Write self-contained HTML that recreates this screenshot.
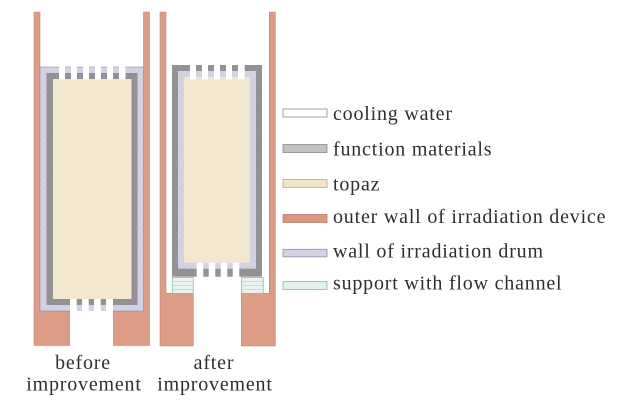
<!DOCTYPE html>
<html>
<head>
<meta charset="utf-8">
<style>
html,body{margin:0;padding:0;background:#fff;}
svg{display:block;}
text{font-family:"Liberation Serif",serif;font-size:20px;fill:#2e2e2e;letter-spacing:0.8px;}
</style>
</head>
<body>
<svg width="634" height="400" viewBox="0 0 634 400" xmlns="http://www.w3.org/2000/svg">
<defs>
  <pattern id="hatchL" width="4" height="4" patternUnits="userSpaceOnUse" patternTransform="rotate(45)">
    <rect width="4" height="4" fill="#d5d3e3"/>
    <line x1="0" y1="0" x2="0" y2="4" stroke="#c7c5d8" stroke-width="1"/>
  </pattern>
  <pattern id="hatchG" width="4" height="4" patternUnits="userSpaceOnUse" patternTransform="rotate(45)">
    <rect width="4" height="4" fill="#929297"/>
    <line x1="0" y1="0" x2="0" y2="4" stroke="#88888d" stroke-width="1"/>
  </pattern>
</defs>

<!-- ===== BEFORE device ===== -->
<!-- outer walls -->
<polygon points="34,12 40,12 40,311 70,311 70,345.5 34,345.5" fill="#dd9c86" stroke="#b8877a" stroke-width="0.6"/>
<polygon points="143.5,12 149.5,12 149.5,345.5 113,345.5 113,311 143.5,311" fill="#dd9c86" stroke="#b8877a" stroke-width="0.6"/>
<!-- drum wall (lavender) -->
<rect x="40" y="67" width="103.5" height="244" fill="url(#hatchL)" stroke="#8f8da3" stroke-width="0.6"/>
<!-- function materials (gray) -->
<rect x="46.5" y="73" width="91" height="232" fill="url(#hatchG)"/>
<!-- topaz -->
<rect x="53" y="79" width="78.5" height="220" fill="#f3e7cf"/>
<!-- top gaps -->
<g fill="#fff">
  <rect x="59" y="66.5" width="6" height="12.8"/>
  <rect x="71" y="66.5" width="6" height="12.8"/>
  <rect x="83" y="66.5" width="6" height="12.8"/>
  <rect x="95" y="66.5" width="6" height="12.8"/>
  <rect x="107" y="66.5" width="6" height="12.8"/>
  <rect x="119" y="66.5" width="6.5" height="12.8"/>
</g>
<!-- bottom gap -->
<rect x="70" y="299" width="43" height="46.5" fill="#fff"/>
<g>
  <rect x="76.7" y="299" width="5.4" height="6" fill="#929297"/>
  <rect x="76.7" y="305" width="5.4" height="6" fill="#d5d3e3"/>
  <rect x="88.7" y="299" width="5.4" height="6" fill="#929297"/>
  <rect x="88.7" y="305" width="5.4" height="6" fill="#d5d3e3"/>
  <rect x="100.7" y="299" width="5.4" height="6" fill="#929297"/>
  <rect x="100.7" y="305" width="5.4" height="6" fill="#d5d3e3"/>
</g>

<!-- ===== AFTER device ===== -->
<polygon points="160,12 166,12 166,293.3 193.3,293.3 193.3,346 160,346" fill="#dd9c86" stroke="#b8877a" stroke-width="0.6"/>
<polygon points="269.3,12 275.3,12 275.3,346 241.3,346 241.3,293.3 269.3,293.3" fill="#dd9c86" stroke="#b8877a" stroke-width="0.6"/>
<!-- gray outer -->
<rect x="172" y="65" width="90" height="211.7" fill="url(#hatchG)"/>
<!-- lavender inner -->
<rect x="178" y="71" width="78" height="197.7" fill="url(#hatchL)"/>
<!-- topaz -->
<rect x="184" y="77" width="66" height="185.7" fill="#f3e7cf"/>
<!-- top gaps -->
<g fill="#fff">
  <rect x="190" y="64.5" width="6" height="15"/>
  <rect x="202" y="64.5" width="6" height="15"/>
  <rect x="214" y="64.5" width="6" height="15"/>
  <rect x="226" y="64.5" width="6" height="15"/>
  <rect x="238" y="64.5" width="6.7" height="15"/>
</g>
<!-- bottom gap -->
<rect x="196.7" y="262.7" width="42.6" height="14.6" fill="#fff"/>
<g>
  <rect x="203.3" y="262.7" width="5.4" height="6" fill="#d5d3e3"/>
  <rect x="203.3" y="268.7" width="5.4" height="8" fill="#929297"/>
  <rect x="215.3" y="262.7" width="5.4" height="6" fill="#d5d3e3"/>
  <rect x="215.3" y="268.7" width="5.4" height="8" fill="#929297"/>
  <rect x="227.3" y="262.7" width="5.4" height="6" fill="#d5d3e3"/>
  <rect x="227.3" y="268.7" width="5.4" height="8" fill="#929297"/>
</g>
<!-- supports with flow channel -->
<g>
  <rect x="172.3" y="277.5" width="21" height="15.8" fill="#e8f3f0" stroke="#8cc3b6" stroke-width="0.8"/>
  <line x1="172.5" y1="281.5" x2="193" y2="281.5" stroke="#b5dbd2" stroke-width="0.8"/>
  <line x1="172.5" y1="285.5" x2="193" y2="285.5" stroke="#b5dbd2" stroke-width="0.8"/>
  <line x1="172.5" y1="289.5" x2="193" y2="289.5" stroke="#b5dbd2" stroke-width="0.8"/>
  <rect x="241.5" y="277.5" width="21.8" height="15.8" fill="#e8f3f0" stroke="#8cc3b6" stroke-width="0.8"/>
  <line x1="241.7" y1="281.5" x2="263" y2="281.5" stroke="#b5dbd2" stroke-width="0.8"/>
  <line x1="241.7" y1="285.5" x2="263" y2="285.5" stroke="#b5dbd2" stroke-width="0.8"/>
  <line x1="241.7" y1="289.5" x2="263" y2="289.5" stroke="#b5dbd2" stroke-width="0.8"/>
</g>

<!-- labels under devices -->
<text x="83" y="369" text-anchor="middle">before</text>
<text x="84" y="390.5" text-anchor="middle">improvement</text>
<text x="214" y="369" text-anchor="middle">after</text>
<text x="215" y="390.5" text-anchor="middle">improvement</text>

<!-- ===== LEGEND ===== -->
<rect x="283" y="109" width="44" height="8" fill="#ffffff" stroke="#8a8a8a" stroke-width="0.8"/>
<text x="333" y="120">cooling water</text>

<rect x="283" y="144.5" width="44" height="8" fill="#c2c2c6" stroke="#8a8a8e" stroke-width="0.8"/>
<text x="333" y="155.5">function materials</text>

<rect x="283" y="179.5" width="44" height="8" fill="#f1e4c8" stroke="#b8ab95" stroke-width="0.8"/>
<text x="333" y="190.5">topaz</text>

<rect x="283" y="214.5" width="44" height="8" fill="#dc967e" stroke="#b8806e" stroke-width="0.8"/>
<text x="333" y="223">outer wall of irradiation device</text>

<rect x="283" y="249.3" width="44" height="7.5" fill="url(#hatchL)" stroke="#8f8da3" stroke-width="0.8"/>
<text x="333" y="257.5">wall of irradiation drum</text>

<rect x="283" y="281.5" width="44" height="8" fill="#e3f1ee" stroke="#8cb9b0" stroke-width="0.8"/>
<text x="333" y="289.5">support with flow channel</text>
</svg>
</body>
</html>
